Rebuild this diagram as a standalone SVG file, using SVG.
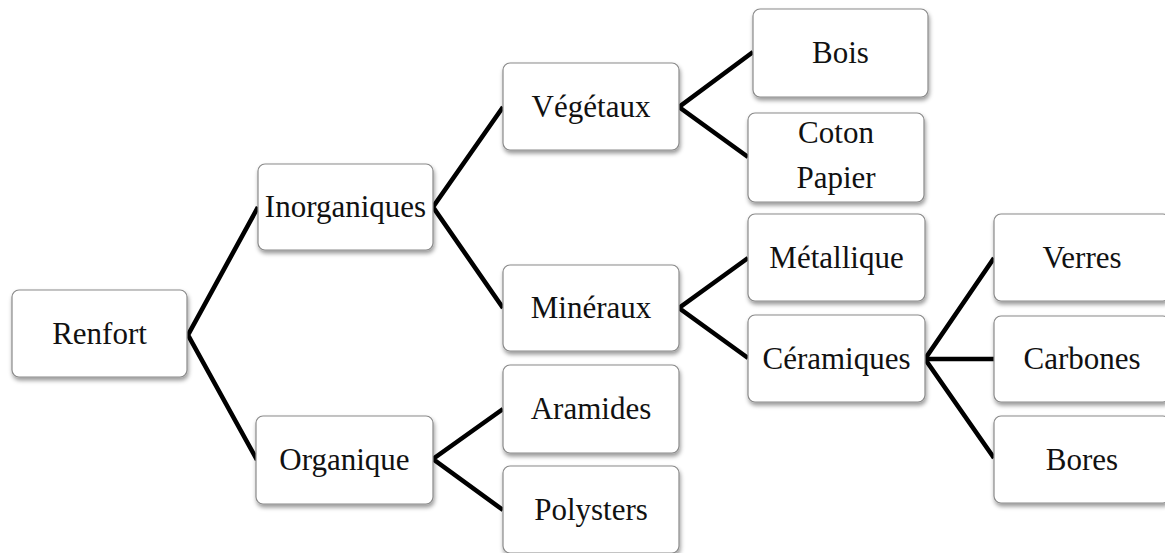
<svg xmlns="http://www.w3.org/2000/svg" width="1165" height="553" viewBox="0 0 1165 553">
<defs>
<filter id="sh" x="-10%" y="-10%" width="125%" height="130%">
<feDropShadow dx="1" dy="3" stdDeviation="2" flood-color="#000" flood-opacity="0.4"/>
</filter>
<style>
.box{fill:#fff;stroke:#8a8a8a;stroke-width:1.2;filter:url(#sh)}
.t{font-family:"Liberation Serif","Times New Roman",serif;font-size:31px;fill:#111;text-anchor:middle}
.c{stroke:#000;stroke-width:4.6;fill:none;stroke-linejoin:miter}
</style>
</defs>
<rect width="1165" height="553" fill="#fff"/>
<g id="connectors">
<polyline class="c" points="258,207 188,335 257,460"/>
<polyline class="c" points="503,107 433,207 503,308"/>
<polyline class="c" points="753,52 679,107 748,157"/>
<polyline class="c" points="748,258 679,308 748,358"/>
<polyline class="c" points="994,258 925,359 994,458"/>
<line class="c" x1="925" y1="359" x2="994" y2="359"/>
<polyline class="c" points="503,409 433,459 503,510"/>
</g>
<g id="n-renfort"><rect class="box" x="12" y="290" width="175" height="87" rx="7"/><text class="t" x="99.5" y="344">Renfort</text></g>
<g id="n-inorganiques"><rect class="box" x="258" y="164" width="175" height="86" rx="7"/><text class="t" x="345.5" y="217">Inorganiques</text></g>
<g id="n-organique"><rect class="box" x="256" y="416" width="177" height="88" rx="7"/><text class="t" x="344.5" y="470">Organique</text></g>
<g id="n-vegetaux"><rect class="box" x="503" y="63" width="176" height="87" rx="7"/><text class="t" x="591" y="117">Végétaux</text></g>
<g id="n-mineraux"><rect class="box" x="503" y="265" width="176" height="86" rx="7"/><text class="t" x="591" y="318">Minéraux</text></g>
<g id="n-aramides"><rect class="box" x="503" y="365" width="176" height="88" rx="7"/><text class="t" x="591" y="419">Aramides</text></g>
<g id="n-polysters"><rect class="box" x="503" y="466" width="176" height="87" rx="7"/><text class="t" x="591" y="520">Polysters</text></g>
<g id="n-bois"><rect class="box" x="753" y="9" width="175" height="88" rx="7"/><text class="t" x="840.5" y="63">Bois</text></g>
<g id="n-coton"><rect class="box" x="748" y="113" width="176" height="89" rx="7"/><text class="t" x="836" y="143">Coton</text><text class="t" x="836" y="188">Papier</text></g>
<g id="n-metallique"><rect class="box" x="748" y="214" width="177" height="87" rx="7"/><text class="t" x="836.5" y="268">Métallique</text></g>
<g id="n-ceramiques"><rect class="box" x="748" y="315" width="177" height="87" rx="7"/><text class="t" x="836.5" y="369">Céramiques</text></g>
<g id="n-verres"><rect class="box" x="994" y="214" width="176" height="87" rx="7"/><text class="t" x="1082" y="268">Verres</text></g>
<g id="n-carbones"><rect class="box" x="994" y="316" width="176" height="86" rx="7"/><text class="t" x="1082" y="369">Carbones</text></g>
<g id="n-bores"><rect class="box" x="994" y="416" width="176" height="87" rx="7"/><text class="t" x="1082" y="470">Bores</text></g>
</svg>
